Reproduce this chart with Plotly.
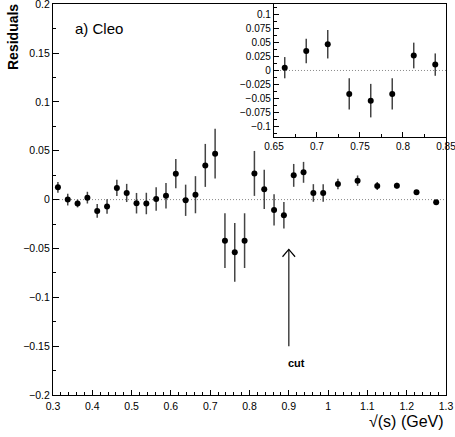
import plotly.graph_objects as go

# ---- data ----
sqrt_s = [0.3125, 0.3375, 0.3625, 0.3875, 0.4125, 0.4375, 0.4625, 0.4875, 0.5125, 0.5375,
          0.5625, 0.5875, 0.6125, 0.6375, 0.6625, 0.6875, 0.7125, 0.7375, 0.7625, 0.7875,
          0.8125, 0.8375, 0.8625, 0.8875, 0.9125, 0.9375, 0.9625, 0.9875, 1.025, 1.075,
          1.125, 1.175, 1.225, 1.275]
residuals = [0.0126, 0.0, -0.004, 0.002, -0.0116, -0.0071, 0.0119, 0.0068, -0.0037, -0.004,
             0.0007, 0.004, 0.0265, -0.0007, 0.005, 0.035, 0.047, -0.042, -0.054, -0.042,
             0.0268, 0.0105, -0.0106, -0.016, 0.0248, 0.0279, 0.0068, 0.0068, 0.0159, 0.0194,
             0.0139, 0.0143, 0.0075, -0.0028]
errors = [0.0055, 0.006, 0.004, 0.006, 0.007, 0.0075, 0.0083, 0.0093, 0.0105, 0.011,
          0.012, 0.013, 0.015, 0.016, 0.019, 0.022, 0.0255, 0.028, 0.03, 0.028,
          0.023, 0.02, 0.016, 0.0136, 0.0117, 0.0107, 0.009, 0.009, 0.0054, 0.0053,
          0.004, 0.003, 0.002, 0.0015]
inset_range = (0.65, 0.85)
cut_value = 0.9

ins = [i for i, v in enumerate(sqrt_s) if inset_range[0] < v < inset_range[1]]
x_in = [sqrt_s[i] for i in ins]
y_in = [residuals[i] for i in ins]
e_in = [errors[i] for i in ins]

FONT = "Liberation Sans, Arial, Helvetica, sans-serif"
BAR = "#444444"

fig = go.Figure()
fig.add_trace(go.Scatter(
    x=sqrt_s, y=residuals, mode="markers",
    marker=dict(color="black", size=6),
    error_y=dict(type="data", array=errors, color=BAR, thickness=1.5, width=0),
    xaxis="x", yaxis="y", showlegend=False))
fig.add_trace(go.Scatter(
    x=x_in, y=y_in, mode="markers",
    marker=dict(color="black", size=6),
    error_y=dict(type="data", array=e_in, color=BAR, thickness=1.5, width=0),
    xaxis="x2", yaxis="y2", showlegend=False))

axis_common = dict(showline=True, mirror=True, linecolor="black", linewidth=1.2,
                   ticks="inside", tickcolor="black", showgrid=False, zeroline=False,
                   ticklabeloverflow="allow", automargin=False,
                   tickfont=dict(family=FONT, size=10.5, color="black"))
inset_common = dict(showline=True, mirror=True, linecolor="black", linewidth=1.2,
                    ticks="inside", tickcolor="black", showgrid=False, zeroline=False,
                    ticklabeloverflow="allow", automargin=False,
                    tickfont=dict(family=FONT, size=10, color="black"))

fig.update_layout(
    width=455, height=437,
    margin=dict(l=53, r=9, t=4, b=42),
    paper_bgcolor="white", plot_bgcolor="white",
    xaxis=dict(domain=[0, 1], range=[0.3, 1.3], dtick=0.1, tick0=0.3, ticklen=5,
               ticklabelstandoff=1,
               minor=dict(dtick=0.02, ticklen=3, ticks="inside", tickcolor="black"),
               anchor="y", **axis_common),
    yaxis=dict(domain=[0, 1], range=[-0.2, 0.2002], dtick=0.05, ticklen=6,
               minor=dict(dtick=0.025, ticklen=3, ticks="inside", tickcolor="black"),
               anchor="x", **axis_common),
    xaxis2=dict(domain=[0.5623, 1.0], range=[0.65, 0.85], dtick=0.05, ticklen=5,
                ticklabelstandoff=0,
                minor=dict(dtick=0.025, ticklen=3, ticks="inside", tickcolor="black"),
                anchor="y2", **inset_common),
    yaxis2=dict(domain=[0.66, 1.0], range=[-0.119, 0.119], dtick=0.025, ticklen=5,
                minor=dict(dtick=0.0125, ticklen=3, ticks="inside", tickcolor="black"),
                anchor="x2", **inset_common),
)

# inset background
fig.add_shape(type="rect", xref="x2 domain", yref="y2 domain", x0=0, x1=1, y0=0, y1=1,
              fillcolor="white", line=dict(width=0), layer="below")

# zero lines
fig.add_shape(type="line", xref="x", yref="y", x0=0.3, x1=1.3, y0=0, y1=0,
              line=dict(color="#888888", width=1, dash="1px,2px"), layer="below")
fig.add_shape(type="line", xref="x2", yref="y2", x0=0.65, x1=0.85, y0=0, y1=0,
              line=dict(color="#888888", width=1, dash="1px,2px"), layer="below")

# cut arrow
fig.add_shape(type="line", xref="x", yref="y", x0=cut_value, x1=cut_value, y0=-0.15, y1=-0.051,
              line=dict(color=BAR, width=1.5))
fig.add_shape(type="path", xref="x", yref="y",
              path=f"M {cut_value-0.016},-0.0585 L {cut_value},-0.051 L {cut_value+0.016},-0.0585",
              line=dict(color="black", width=1.2))

fig.add_annotation(x=0.92, y=-0.167, xref="x", yref="y", text="<b>cut</b>", showarrow=False,
                   font=dict(family=FONT, size=11, color="black"))
fig.add_annotation(x=0.3508, y=0.175, xref="x", yref="y", text="a) Cleo", showarrow=False,
                   xanchor="left", yanchor="middle",
                   font=dict(family=FONT, size=15, color="black"))
fig.add_annotation(x=-0.1018, y=0.9156, xref="paper", yref="paper", text="<b>Residuals</b>",
                   showarrow=False, textangle=-90, xanchor="center", yanchor="middle",
                   font=dict(family=FONT, size=14, color="black"))
fig.add_annotation(x=1.0, y=-0.0675, xref="paper", yref="paper", text="√(s) (GeV)",
                   showarrow=False, xanchor="right", yanchor="middle",
                   font=dict(family=FONT, size=16, color="black"))

fig.write_html("out.html")
